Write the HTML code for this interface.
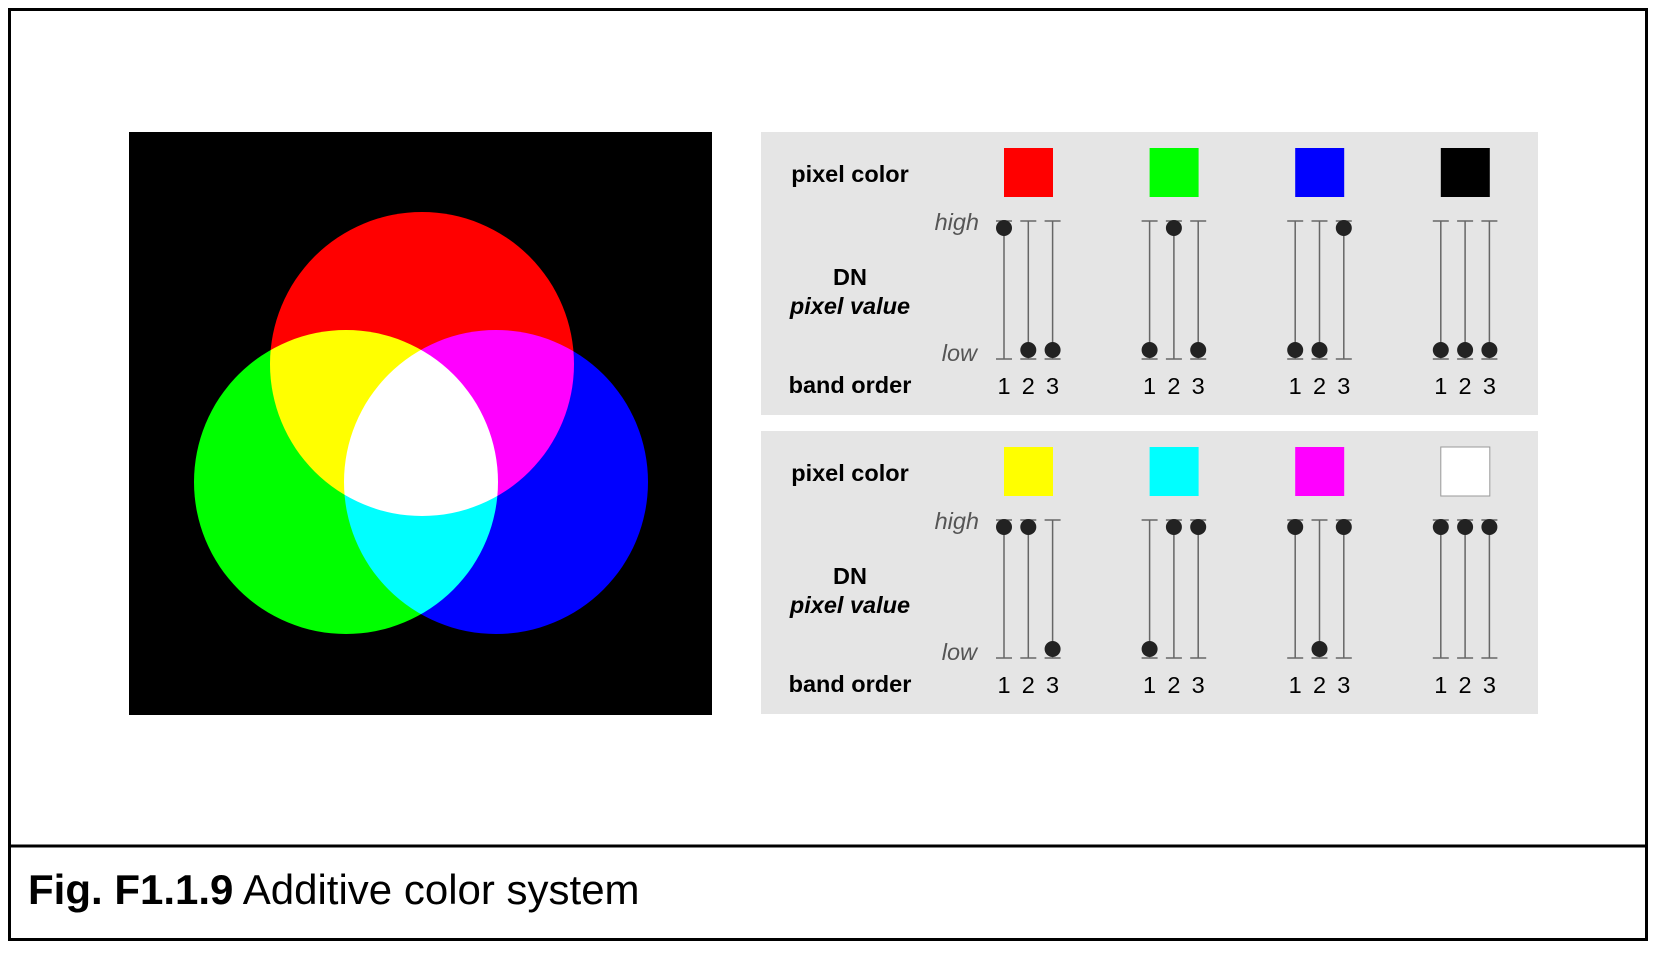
<!DOCTYPE html>
<html><head><meta charset="utf-8"><style>
body{margin:0;background:#fff;}
svg text{font-family:"Liberation Sans",Arial,sans-serif;}
</style></head><body>
<svg width="1654" height="948" viewBox="0 0 1654 948" xmlns="http://www.w3.org/2000/svg">
<rect x="9.5" y="9.5" width="1637" height="930" fill="#fff" stroke="#000" stroke-width="3"/>
<line x1="8" y1="846" x2="1648" y2="846" stroke="#000" stroke-width="3"/>
<text x="28" y="904" font-size="42"><tspan font-weight="bold">Fig. F1.1.9</tspan> Additive color system</text>
<g>
<rect x="129" y="132" width="583" height="583" fill="#000"/>
<svg x="129" y="132" width="583" height="583" viewBox="129 132 583 583" style="isolation:isolate">
<circle cx="422" cy="364" r="152" fill="#f00" style="mix-blend-mode:screen"/>
<circle cx="346" cy="482" r="152" fill="#0f0" style="mix-blend-mode:screen"/>
<circle cx="496" cy="482" r="152" fill="#00f" style="mix-blend-mode:screen"/>
</svg>
</g>
<g id="panels"></g>
</svg>
<script>
const colorsTop=['#ff0000','#00ff00','#0000ff','#000000'];
const colorsBottom=['#ffff00','#00ffff','#ff00ff','#ffffff'];
const valuesTop=[[1,0,0],[0,1,0],[0,0,1],[0,0,0]];
const valuesBottom=[[1,1,0],[0,1,1],[1,0,1],[1,1,1]];
const bandLabels=['1','2','3'];
const NS='http://www.w3.org/2000/svg';
const g=document.getElementById('panels');
function mk(t,a,p){const e=document.createElementNS(NS,t);for(const k in a)e.setAttribute(k,a[k]);(p||g).appendChild(e);return e;}
function txt(x,y,s,opts,p){const e=mk('text',Object.assign({x:x,y:y,'font-size':23.5,'text-anchor':'middle'},opts||{}),p);e.textContent=s;return e;}
const yScale=v=>350+(228-350)*v;
function panel(top,colors,values,idx){
  const pg=mk('g',{});
  
  
  const bg=mk('rect',{x:761,y:top,width:777,height:283,fill:'#e5e5e5'},pg);
  
  
  const off=top-132;
  let t=txt(850,182+off,'pixel color',{'font-weight':'bold'},pg);
  
  t=txt(850,285+off,'DN',{'font-weight':'bold'},pg);
  
  t=txt(850,314+off,'pixel value',{'font-weight':'bold','font-style':'italic'},pg);
  
  t=txt(850,393+off,'band order',{'font-weight':'bold'},pg);
  
  t=txt(979,230+off,'high',{'font-style':'italic','text-anchor':'end',fill:'#555'},pg);
  
  t=txt(977,361+off,'low',{'font-style':'italic','text-anchor':'end',fill:'#555'},pg);
  
  colors.forEach((c,i)=>{
    const x0=1004+i*145.6;
    const sw=mk('rect',{x:x0,y:148+off,width:49,height:49,fill:c,stroke:c==='#ffffff'?'#999':'none','stroke-width':1},pg);
    
    
    values[i].forEach((v,b)=>{
      const x=x0+b*24.3;
      const ln=mk('line',{x1:x,y1:221+off,x2:x,y2:359+off,stroke:'#666','stroke-width':1.5},pg);
      
      
      mk('line',{x1:x-8,y1:221+off,x2:x+8,y2:221+off,stroke:'#666','stroke-width':1.5},pg);
      mk('line',{x1:x-8,y1:359+off,x2:x+8,y2:359+off,stroke:'#666','stroke-width':1.5},pg);
      const d=mk('circle',{cx:x,cy:yScale(v)+off,r:8,fill:'#222'},pg);
      
      
      const n=txt(x,394+off,bandLabels[b],{},pg);
      
      
    });
  });
}
panel(132,colorsTop,valuesTop,'top');
panel(431,colorsBottom,valuesBottom,'bottom');
</script>
</body></html>
